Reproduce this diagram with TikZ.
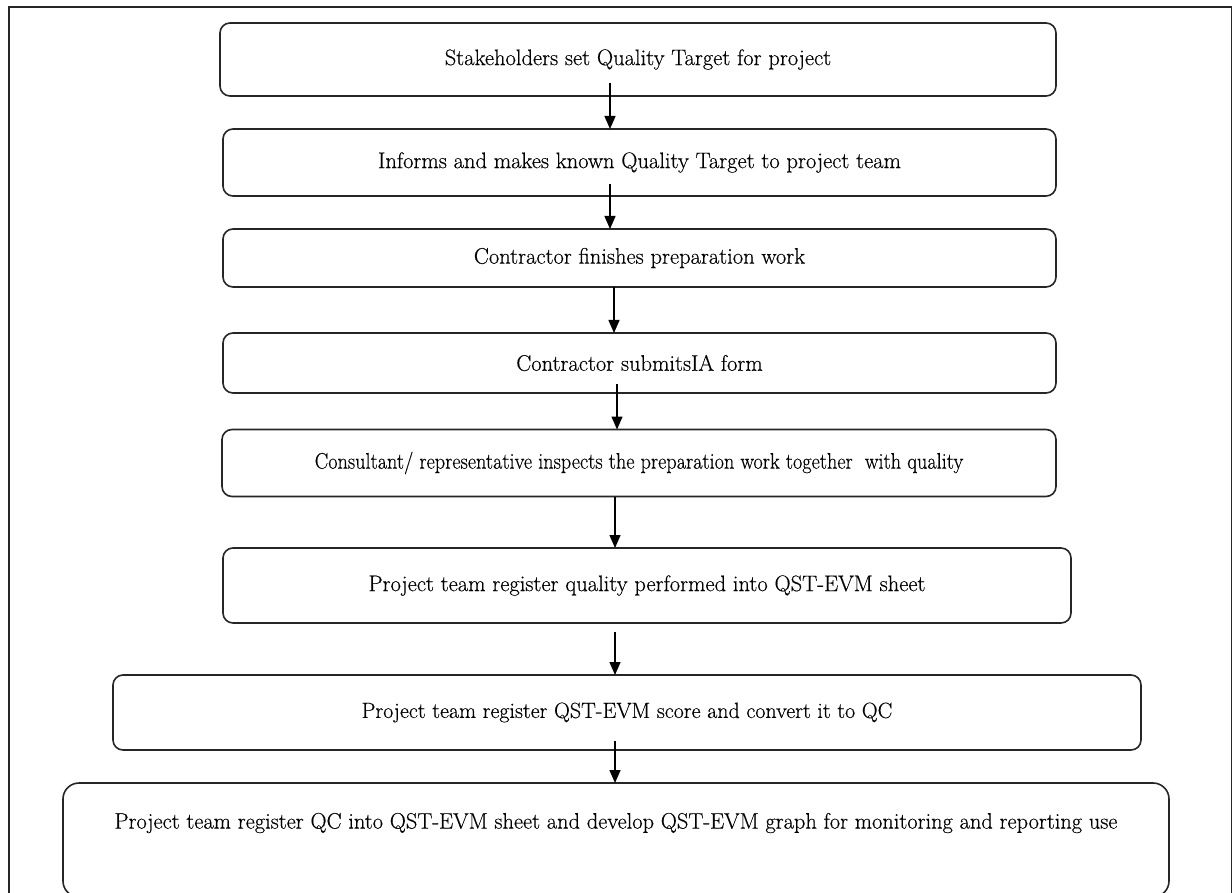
\documentclass[tikz,border=0pt]{standalone}
\usepackage{fontspec}
\setmainfont{Latin Modern Roman}[FakeBold=0.35]
\usetikzlibrary{arrows.meta}
\newcommand{\fsz}[1]{\fontsize{#1}{#1}\selectfont}
\begin{document}
\begin{tikzpicture}[x=1pt,y=-1pt,
  flowbox/.style={draw=black!85,line width=1.6pt,rounded corners=10pt,inner sep=0pt,outer sep=0pt,
    font=\fsz{22.5},text=black},
  flowarrow/.style={draw=black,line width=1.4pt,-{Triangle[length=13pt,width=11pt]}}]
\useasboundingbox (0,0) rectangle (1232,893);
% frame
\draw[line width=1.6pt,black!85] (9,893) -- (9,7) -- (1232,7);
\draw[line width=1.6pt,black!85] (1231.5,7) -- (1231.5,893);
% boxes
\node[flowbox,minimum width=836pt,minimum height=73pt] (b1) at (638,59.5) {Stakeholders set Quality Target for project};
\node[flowbox,minimum width=833pt,minimum height=67pt] (b2) at (639.5,162.5) {Informs and makes known Quality Target to project team};
\node[flowbox,minimum width=833pt,minimum height=58pt] (b3) at (639.5,258) {Contractor finishes preparation work};
\node[flowbox,minimum width=833pt,minimum height=60pt] (b4) at (639.5,363) {Contractor submitsIA form};
\node[flowbox,minimum width=834pt,minimum height=67pt] (b5) at (639,463) {\scalebox{0.9}[1]{Consultant/ representative inspects the preparation work together\ \ with quality}};
\node[flowbox,minimum width=848pt,minimum height=75pt] (b6) at (647,585.5) {Project team register quality performed into QST-EVM sheet};
\node[flowbox,minimum width=1028pt,minimum height=75pt,font=\fsz{22}] (b7) at (627,712.5) {Project team register QST-EVM score and convert it to QC};
\node[flowbox,rounded corners=16pt,minimum width=1106pt,minimum height=114pt] (b8) at (616,840) {};
\node[font=\fsz{22.4},text=black,inner sep=0pt] (t8) at ([yshift=-40pt]b8.north) {Project team register QC into QST-EVM sheet and develop QST-EVM graph for monitoring and reporting use};
% arrows
\draw[flowarrow] ([xshift=-28pt,yshift=13pt]b1.south) -- ([xshift=-29.5pt]b2.north);
\draw[flowarrow] ([xshift=-29.5pt,yshift=12pt]b2.south) -- ([xshift=-29.5pt]b3.north);
\draw[flowarrow] ([xshift=-25.5pt]b3.south) -- ([xshift=-25.5pt]b4.north);
\draw[flowarrow] ([xshift=-22.5pt,yshift=9pt]b4.south) -- ([xshift=-22pt]b5.north);
\draw[flowarrow] ([xshift=-24pt]b5.south) -- ([xshift=-32pt]b6.north);
\draw[flowarrow] ([xshift=-32pt,yshift=-9pt]b6.south) -- ([xshift=-12pt]b7.north);
\draw[flowarrow] ([xshift=-12pt,yshift=9pt]b7.south) -- ([xshift=-1pt]b8.north);
\end{tikzpicture}
\end{document}
